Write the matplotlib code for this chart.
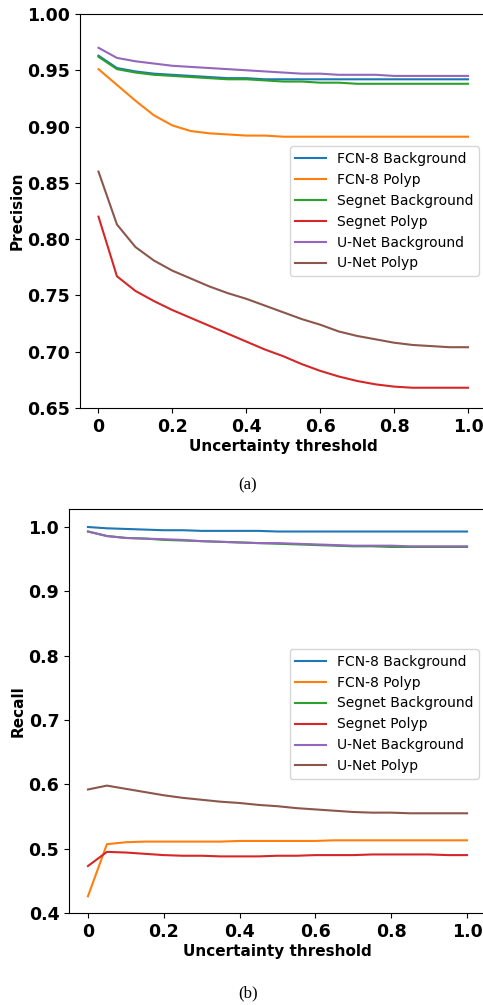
import matplotlib
matplotlib.use('Agg')
import matplotlib.pyplot as plt

# uncertainty thresholds (shared by both panels)
thresholds = [0.0, 0.05, 0.1, 0.15, 0.2, 0.25, 0.3, 0.35, 0.4, 0.45, 0.5,
              0.55, 0.6, 0.65, 0.7, 0.75, 0.8, 0.85, 0.9, 0.95, 1.0]

labels = ["FCN-8 Background", "FCN-8 Polyp", "Segnet Background",
          "Segnet Polyp", "U-Net Background", "U-Net Polyp"]

# (a) precision
prec_fcn_bg = [0.963, 0.952, 0.949, 0.947, 0.946, 0.945, 0.944, 0.943, 0.943, 0.942, 0.942,
               0.942, 0.942, 0.942, 0.942, 0.942, 0.942, 0.942, 0.942, 0.942, 0.942]
prec_fcn_polyp = [0.951, 0.937, 0.923, 0.910, 0.901, 0.896, 0.894, 0.893, 0.892, 0.892, 0.891,
                  0.891, 0.891, 0.891, 0.891, 0.891, 0.891, 0.891, 0.891, 0.891, 0.891]
prec_seg_bg = [0.962, 0.951, 0.948, 0.946, 0.945, 0.944, 0.943, 0.942, 0.942, 0.941, 0.940,
               0.940, 0.939, 0.939, 0.938, 0.938, 0.938, 0.938, 0.938, 0.938, 0.938]
prec_seg_polyp = [0.820, 0.767, 0.754, 0.745, 0.737, 0.730, 0.723, 0.716, 0.709, 0.702, 0.696,
                  0.689, 0.683, 0.678, 0.674, 0.671, 0.669, 0.668, 0.668, 0.668, 0.668]
prec_unet_bg = [0.970, 0.961, 0.958, 0.956, 0.954, 0.953, 0.952, 0.951, 0.950, 0.949, 0.948,
                0.947, 0.947, 0.946, 0.946, 0.946, 0.945, 0.945, 0.945, 0.945, 0.945]
prec_unet_polyp = [0.860, 0.813, 0.793, 0.781, 0.772, 0.765, 0.758, 0.752, 0.747, 0.741, 0.735,
                   0.729, 0.724, 0.718, 0.714, 0.711, 0.708, 0.706, 0.705, 0.704, 0.704]

# (b) recall
rec_fcn_bg = [1.000, 0.998, 0.997, 0.996, 0.995, 0.995, 0.994, 0.994, 0.994, 0.994, 0.993,
              0.993, 0.993, 0.993, 0.993, 0.993, 0.993, 0.993, 0.993, 0.993, 0.993]
rec_fcn_polyp = [0.426, 0.507, 0.510, 0.511, 0.511, 0.511, 0.511, 0.511, 0.512, 0.512, 0.512,
                 0.512, 0.512, 0.513, 0.513, 0.513, 0.513, 0.513, 0.513, 0.513, 0.513]
rec_seg_bg = [0.993, 0.986, 0.983, 0.982, 0.980, 0.979, 0.978, 0.977, 0.976, 0.975, 0.974,
              0.973, 0.972, 0.971, 0.970, 0.970, 0.969, 0.969, 0.969, 0.969, 0.969]
rec_seg_polyp = [0.473, 0.495, 0.494, 0.492, 0.490, 0.489, 0.489, 0.488, 0.488, 0.488, 0.489,
                 0.489, 0.490, 0.490, 0.490, 0.491, 0.491, 0.491, 0.491, 0.490, 0.490]
rec_unet_bg = [0.993, 0.986, 0.983, 0.982, 0.981, 0.980, 0.978, 0.977, 0.976, 0.975, 0.975,
               0.974, 0.973, 0.972, 0.971, 0.971, 0.971, 0.970, 0.970, 0.970, 0.970]
rec_unet_polyp = [0.592, 0.598, 0.593, 0.588, 0.583, 0.579, 0.576, 0.573, 0.571, 0.568, 0.566,
                  0.563, 0.561, 0.559, 0.557, 0.556, 0.556, 0.555, 0.555, 0.555, 0.555]

precision = [prec_fcn_bg, prec_fcn_polyp, prec_seg_bg, prec_seg_polyp, prec_unet_bg, prec_unet_polyp]
recall = [rec_fcn_bg, rec_fcn_polyp, rec_seg_bg, rec_seg_polyp, rec_unet_bg, rec_unet_polyp]

W, H = 483, 1005
fig = plt.figure(figsize=(W / 100, H / 100), dpi=100)


def px_axes(left, right, top, bottom):
    return fig.add_axes([left / W, 1 - bottom / H, (right - left) / W, (bottom - top) / H])


def draw_panel(ax, series, ylabel, ylim, yticks, yticklabels, legend_anchor):
    for vals, lab in zip(series, labels):
        ax.plot(thresholds, vals, linewidth=1.5, label=lab)
    ax.set_xlim(-0.05, 1.05)
    ax.set_ylim(*ylim)
    ax.set_xticks([0, 0.2, 0.4, 0.6, 0.8, 1.0])
    ax.set_xticklabels(['0', '0.2', '0.4', '0.6', '0.8', '1.0'])
    ax.set_yticks(yticks)
    ax.set_yticklabels(yticklabels)
    for t in ax.get_xticklabels() + ax.get_yticklabels():
        t.set_fontsize(12.5)
        t.set_fontweight('bold')
    ax.set_xlabel('Uncertainty threshold', fontsize=11, fontweight='bold', labelpad=2)
    ax.set_ylabel(ylabel, fontsize=11, fontweight='bold', labelpad=2)
    ax.legend(loc='lower right', bbox_to_anchor=legend_anchor, borderaxespad=0,
              fontsize=10, handlelength=2.2)


ax1 = px_axes(80, 486.5, 14, 408)
draw_panel(ax1, precision, 'Precision', (0.65, 1.00),
           [0.65, 0.70, 0.75, 0.80, 0.85, 0.90, 0.95, 1.00],
           ['0.65', '0.70', '0.75', '0.80', '0.85', '0.90', '0.95', '1.00'],
           (0.982, 0.335))

ax2 = px_axes(69, 486, 509, 913)
draw_panel(ax2, recall, 'Recall', (0.4, 1.028),
           [0.4, 0.5, 0.6, 0.7, 0.8, 0.9, 1.0],
           ['0.4', '0.5', '0.6', '0.7', '0.8', '0.9', '1.0'],
           (0.983, 0.332))

fig.text(248 / W, 1 - 485 / H, '(a)', family='Liberation Serif', fontsize=12,
         ha='center', va='center')
fig.text(248 / W, 1 - 993 / H, '(b)', family='Liberation Serif', fontsize=12,
         ha='center', va='center')

fig.savefig('out.png', dpi=100)
plt.close()
